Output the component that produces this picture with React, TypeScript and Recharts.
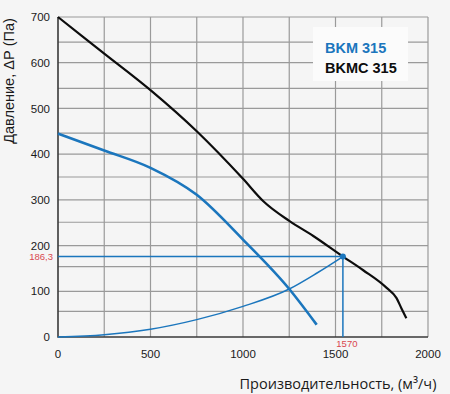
import React from 'react';
import { LineChart, Line, XAxis, YAxis, ReferenceLine, ReferenceDot } from 'recharts';

// ---- data ----
const xTicks = [0, 500, 1000, 1500, 2000];
const yTicks = [0, 100, 200, 300, 400, 500, 600, 700];
const gridX = [250, 500, 750, 1000, 1250, 1500, 1750, 2000];
const gridY = [56, 100, 154, 200, 251, 300, 350, 400, 446, 500, 544, 600, 645, 700];

const bkmcFlow = [0, 250, 500, 750, 1000, 1110, 1250, 1380, 1540, 1650, 1775, 1830, 1856, 1883];
const bkmcPressure = [700, 620, 540, 450, 346, 297, 254, 221, 176, 146, 108, 85, 63, 41];

const bkmFlow = [0, 250, 500, 750, 1000, 1250, 1398];
const bkmPressure = [445, 408, 370, 311, 213, 105, 27];

const sysFlow = [0, 250, 500, 750, 1000, 1250, 1400, 1540];
const sysPressure = [0, 5, 17, 38, 67, 105, 140, 176];

const opFlow = 1540;
const opPressure = 176;
const opFlowLabel = '1570';
const opPressureLabel = '186,3';

const seriesNames = ['BKM 315', 'BKMC 315'];
const xTitle = 'Производительность, (м³/ч)';
const yTitle = 'Давление, ΔР (Па)';

const X_MIN = 0;
const X_MAX = 2000;
const Y_MIN = 0;
const Y_MAX = 700;

const zip = (xs: number[], ys: number[]) => xs.map((x, i) => ({ x, y: ys[i] }));
const bkmcData = zip(bkmcFlow, bkmcPressure);
const bkmData = zip(bkmFlow, bkmPressure);
const sysData = zip(sysFlow, sysPressure);
const hGridData = gridY.map((v) => [{ x: X_MIN, y: v }, { x: X_MAX, y: v }]);
const vGridData = gridX.map((v) => [{ x: v, y: Y_MIN }, { x: v, y: Y_MAX }]);

const BLUE = '#1b76bd';
const RED = '#d9474f';
const GRID = '#9a9a9a';
const FONT = '"Liberation Sans", Arial, sans-serif';

const YTick = (props: any) => {
  const { x, y, payload } = props;
  if (payload.value === opPressure) {
    return (
      <text x={x + 3} y={y} dy="0.355em" textAnchor="end" fill={RED} fontSize={9.5} fontFamily={FONT}>
        {opPressureLabel}
      </text>
    );
  }
  return (
    <text x={x} y={y} dy="0.355em" textAnchor="end" fill="#1a1a1a" fontSize={11.5} fontFamily={FONT}>
      {payload.value}
    </text>
  );
};

const XTick = (props: any) => {
  const { x, y, payload } = props;
  if (payload.value === opFlow) {
    return (
      <text x={x + 4} y={y - 3} textAnchor="middle" fill={RED} fontSize={9.5} fontFamily={FONT}>
        {opFlowLabel}
      </text>
    );
  }
  return (
    <text x={x} y={y} dy="0.71em" textAnchor="middle" fill="#1a1a1a" fontSize={11.5} fontFamily={FONT}>
      {payload.value}
    </text>
  );
};

export default function App() {
  return (
    <div style={{ position: 'absolute', left: 0, top: 0, width: 450, height: 394, background: '#f5f5f5' }}>
      <LineChart width={450} height={394} margin={{ top: 17, right: 22, bottom: 27, left: 0 }}>
        <XAxis
          dataKey="x"
          type="number"
          domain={[X_MIN, X_MAX]}
          ticks={[...xTicks, opFlow]}
          interval={0}
          tick={<XTick />}
          tickLine={false}
          tickMargin={7}
          height={30}
          axisLine={false}
          allowDuplicatedCategory={false}
          label={{
            content: () => (
              <text x={338} y={389} textAnchor="middle" fill="#1a1a1a" fontSize={14.5} fontFamily='"Open Sans", sans-serif'>
                {xTitle}
              </text>
            ),
          }}
        />
        <YAxis
          dataKey="y"
          type="number"
          domain={[Y_MIN, Y_MAX]}
          ticks={[...yTicks, opPressure]}
          interval={0}
          tick={<YTick />}
          tickLine={false}
          width={58}
          axisLine={false}
          label={{
            content: () => (
              <text
                x={13.5}
                y={81}
                transform="rotate(-90, 13.5, 81)"
                textAnchor="middle"
                fill="#1a1a1a"
                fontSize={14.5}
                fontFamily={FONT}
              >
                {yTitle}
              </text>
            ),
          }}
        />
        {hGridData.map((d, i) => (
          <Line key={'h' + i} data={d} dataKey="y" type="linear" stroke={GRID} strokeWidth={1.2} dot={false} activeDot={false} isAnimationActive={false} />
        ))}
        {vGridData.map((d, i) => (
          <Line key={'v' + i} data={d} dataKey="y" type="linear" stroke={GRID} strokeWidth={1.2} dot={false} activeDot={false} isAnimationActive={false} />
        ))}
        <Line
          data={[{ x: X_MIN, y: Y_MAX }, { x: X_MIN, y: Y_MIN }, { x: X_MAX, y: Y_MIN }]}
          dataKey="y"
          type="linear"
          stroke="#3a3a3a"
          strokeWidth={1.6}
          dot={false}
          activeDot={false}
          isAnimationActive={false}
        />
        <Line
          data={[{ x: X_MIN, y: opPressure }, { x: opFlow, y: opPressure }, { x: opFlow, y: Y_MIN }]}
          dataKey="y"
          type="linear"
          stroke={BLUE}
          strokeWidth={1.5}
          dot={false}
          activeDot={false}
          isAnimationActive={false}
        />
        <Line data={sysData} dataKey="y" type="monotone" stroke={BLUE} strokeWidth={1.5} dot={false} activeDot={false} isAnimationActive={false} />
        <Line data={bkmData} dataKey="y" type="monotone" stroke={BLUE} strokeWidth={2.6} dot={false} activeDot={false} isAnimationActive={false} />
        <Line data={bkmcData} dataKey="y" type="monotone" stroke="#0d0d0d" strokeWidth={2.2} dot={false} activeDot={false} isAnimationActive={false} />
        <ReferenceDot x={opFlow} y={opPressure} r={3} fill={BLUE} stroke="none" />
      </LineChart>
      <div
        style={{
          position: 'absolute',
          left: 313,
          top: 27,
          width: 95,
          height: 54,
          background: '#fbfbfb',
          fontFamily: FONT,
          fontWeight: 'bold',
          fontSize: 14.5,
          lineHeight: '20px',
          boxSizing: 'border-box',
          paddingLeft: 12,
          paddingTop: 11,
        }}
      >
        <div style={{ color: BLUE }}>{seriesNames[0]}</div>
        <div style={{ color: '#0d0d0d' }}>{seriesNames[1]}</div>
      </div>
    </div>
  );
}
